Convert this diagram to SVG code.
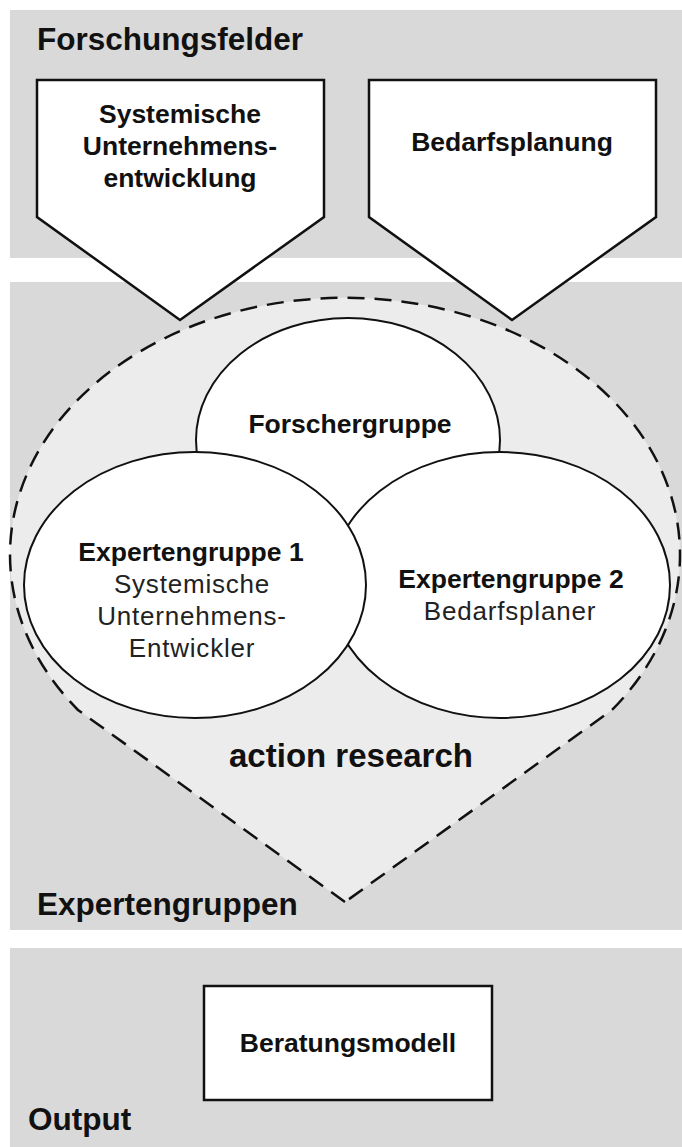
<svg xmlns="http://www.w3.org/2000/svg" width="682" height="1147" viewBox="0 0 682 1147">
<style>
.band{fill:#d9d9d9}
.title{font-family:"Liberation Sans",Arial,sans-serif;font-weight:bold;font-size:31.5px;fill:#111}
.lbl{font-family:"Liberation Sans",Arial,sans-serif;font-weight:bold;font-size:26.5px;fill:#111;text-anchor:middle}
.reg{font-family:"Liberation Sans",Arial,sans-serif;font-size:26px;letter-spacing:0.8px;fill:#222;text-anchor:middle}
.shape{fill:#fff;stroke:#111;stroke-width:2.5}
.circ{fill:#fff;stroke:#111;stroke-width:2}
</style>
<rect width="682" height="1147" fill="#fff"/>
<g id="band-forschungsfelder">
<rect class="band" x="10" y="10" width="672" height="248"/>
<text class="title" x="37" y="50">Forschungsfelder</text>
</g>
<g id="band-expertengruppen">
<rect class="band" x="10" y="282" width="672" height="648"/>
<text class="title" x="37" y="915">Expertengruppen</text>
</g>
<g id="band-output">
<rect class="band" x="10" y="948" width="672" height="199"/>
<text class="title" x="28" y="1130">Output</text>
</g>
<g id="action-research">
<path d="M345,902 L78,710 A335,257 0 1,1 612,710 Z" fill="#ececec" stroke="#111" stroke-width="2.5" stroke-dasharray="17 10"/>
<text x="351" y="767" font-family="Liberation Sans, Arial, sans-serif" font-weight="bold" font-size="33" fill="#111" text-anchor="middle">action research</text>
</g>
<g id="forschergruppe">
<ellipse class="circ" cx="348" cy="440" rx="152" ry="122"/>
<text class="lbl" x="350" y="433">Forschergruppe</text>
</g>
<g id="expertengruppe-2">
<ellipse class="circ" cx="500" cy="585" rx="170" ry="133"/>
<text class="lbl" x="511" y="588">Expertengruppe 2</text>
<text class="reg" x="510" y="620">Bedarfsplaner</text>
</g>
<g id="expertengruppe-1">
<ellipse class="circ" cx="195" cy="585" rx="171" ry="133"/>
<text class="lbl" x="191" y="561">Expertengruppe 1</text>
<text class="reg" x="192" y="593">Systemische</text>
<text class="reg" x="192" y="625">Unternehmens-</text>
<text class="reg" x="192" y="657">Entwickler</text>
</g>
<g id="systemische-unternehmensentwicklung">
<polygon class="shape" points="37,80 324,80 324,217 180,320 37,217"/>
<text class="lbl" x="180" y="123">Systemische</text>
<text class="lbl" x="180" y="155">Unternehmens-</text>
<text class="lbl" x="180" y="187">entwicklung</text>
</g>
<g id="bedarfsplanung">
<polygon class="shape" points="369,80 656,80 656,217 512,320 369,217"/>
<text class="lbl" x="512" y="151">Bedarfsplanung</text>
</g>
<g id="beratungsmodell">
<rect class="shape" x="204" y="986" width="288" height="114"/>
<text class="lbl" x="348" y="1052">Beratungsmodell</text>
</g>
<g id="connectors"></g>
</svg>
